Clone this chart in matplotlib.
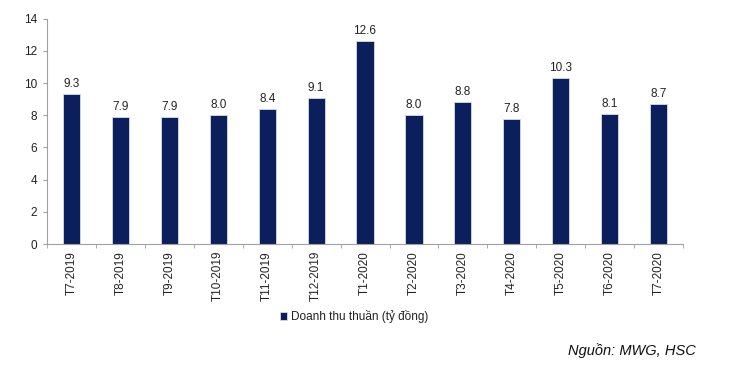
import matplotlib.pyplot as plt
import numpy as np

plt.rcParams["font.family"] = ["Liberation Sans", "DejaVu Sans"]

# Doanh thu thuần theo tháng (tỷ đồng)
months = ["T7-2019", "T8-2019", "T9-2019", "T10-2019", "T11-2019", "T12-2019",
          "T1-2020", "T2-2020", "T3-2020", "T4-2020", "T5-2020", "T6-2020", "T7-2020"]
revenue = [9.3, 7.9, 7.9, 8.0, 8.4, 9.1, 12.6, 8.0, 8.8, 7.8, 10.3, 8.1, 8.7]

BAR_COLOR = "#0A1F5C"
AXIS_COLOR = "#A0A0A0"
TEXT_COLOR = "#222222"

fig = plt.figure(figsize=(7.29, 3.65), dpi=100)
ax = fig.add_axes([0.0645, 0.3315, 0.8725, 0.617])

x = np.arange(len(months))
bars = ax.bar(x, revenue, width=0.35, color=BAR_COLOR, edgecolor="#D8DCE8",
              linewidth=0.6, label="Doanh thu thuần (tỷ đồng)")

for xi, v in zip(x, revenue):
    ax.text(xi, v + 0.25, f"{v:.1f}", ha="center", va="bottom",
            fontsize=8.5, color=TEXT_COLOR)

ax.set_xlim(-0.5, len(months) - 0.5)
ax.set_ylim(0, 14)
ax.set_yticks(range(0, 15, 2))
ax.tick_params(axis="y", labelsize=8.5, colors=TEXT_COLOR, length=3,
               color=AXIS_COLOR, pad=4)

# category labels at bar centres, tick marks between categories
ax.set_xticks(x)
ax.set_xticklabels(months, rotation=90, fontsize=8.5, color=TEXT_COLOR)
ax.tick_params(axis="x", which="major", length=0, pad=5)
ax.set_xticks(np.arange(-0.5, len(months), 1.0), minor=True)
ax.tick_params(axis="x", which="minor", length=3, color=AXIS_COLOR)

for side in ["top", "right"]:
    ax.spines[side].set_visible(False)
for side in ["left", "bottom"]:
    ax.spines[side].set_color(AXIS_COLOR)
    ax.spines[side].set_linewidth(0.8)

fig.legend(handles=[bars], labels=["Doanh thu thuần (tỷ đồng)"],
           loc="center left", bbox_to_anchor=(0.37, 0.133), frameon=False,
           fontsize=8.5, handlelength=0.6, handleheight=0.6, handletextpad=0.3,
           labelcolor=TEXT_COLOR)

fig.text(0.955, 0.02, "Nguồn: MWG, HSC", ha="right", va="bottom",
         fontsize=10.5, style="italic", color="#111111")

plt.savefig("out.png", dpi=100)
